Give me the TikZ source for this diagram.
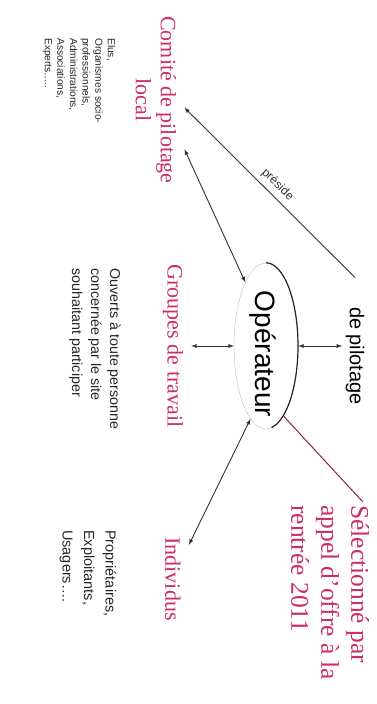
\documentclass[tikz,border=0pt]{standalone}
\usepackage{fontspec}
\setmainfont{Liberation Serif}
\setsansfont{Liberation Sans}
\usepackage{xcolor}
\usetikzlibrary{arrows}
\usetikzlibrary{shapes.geometric}

\definecolor{rougetitre}{RGB}{205,45,95}
\definecolor{rougelien}{RGB}{150,30,60}

\tikzset{
  titre/.style={rotate=-90, text=rougetitre, align=center, inner sep=8pt,
    font=\fontsize{22}{25}\selectfont},
  liste/.style={rotate=-90, align=left, anchor=west, inner sep=0pt, text=black!85},
  fleche/.style={<->, black!80, line width=0.9pt},
}

\begin{document}
\begin{tikzpicture}[x=1pt, y=-1pt, >=latex]
\useasboundingbox (0,0) rectangle (377,704);
% titres en rouge
\node[titre] (cpl) at (156,100) {Comité de pilotage\\local};
\node[titre] (gt) at (173,346) {Groupes de travail};
\node[titre] (ind) at (173,579) {Individus};
\node[titre, align=left, anchor=west, inner sep=3pt,
  font=\fontsize{25.5}{30}\selectfont] (sel) at (330,502)
  {Sélectionné par\\appel d’offre à la\\rentrée 2011};
% listes
\node[liste, font=\sffamily\fontsize{10.2}{12.6}\selectfont] (elus) at (79,38)
  {Elus,\\Organismes socio-\\professionnels,\\Administrations,\\Associations,\\Experts…..};
\node[liste, font=\sffamily\fontsize{14.3}{19}\selectfont] (ouverts) at (95,268)
  {Ouverts à toute personne\\concernée par le site\\souhaitant participer};
\node[liste, font=\sffamily\fontsize{14.5}{21.5}\selectfont] (proprio) at (88,530)
  {Propriétaires,\\Exploitants,\\Usagers….};
% operateur
\node[draw=black!25, ellipse, minimum width=64pt, minimum height=166pt, inner sep=0pt] (op) at (266,346) {};
\draw[black!85, line width=1.2pt] (op.north) arc[start angle=90, end angle=-80, x radius=32pt, y radius=83pt];
\node[rotate=-90, font=\sffamily\fontsize{28}{30}\selectfont] (optxt) at (263,354) {Opérateur};
\node[rotate=-90, font=\sffamily\fontsize{20}{24}\selectfont] (dp) at (355,356) {de pilotage};
% liens
\draw[->, black!80, line width=0.9pt] ([yshift=26pt]dp.west) -- (cpl.75)
  node[midway, sloped, above, inner sep=5pt, font=\sffamily\fontsize{12}{14}\selectfont] {préside};
\draw[fleche] (cpl.30) -- (op.108);
\draw[fleche] (gt.north) -- (op.west);
\draw[fleche] (op.east) -- (op.east -| dp.south);
\draw[fleche] (op.-102) -- (ind.155);
\draw[rougelien, line width=1pt] (op.-76) -- (sel.160);
\end{tikzpicture}
\end{document}
